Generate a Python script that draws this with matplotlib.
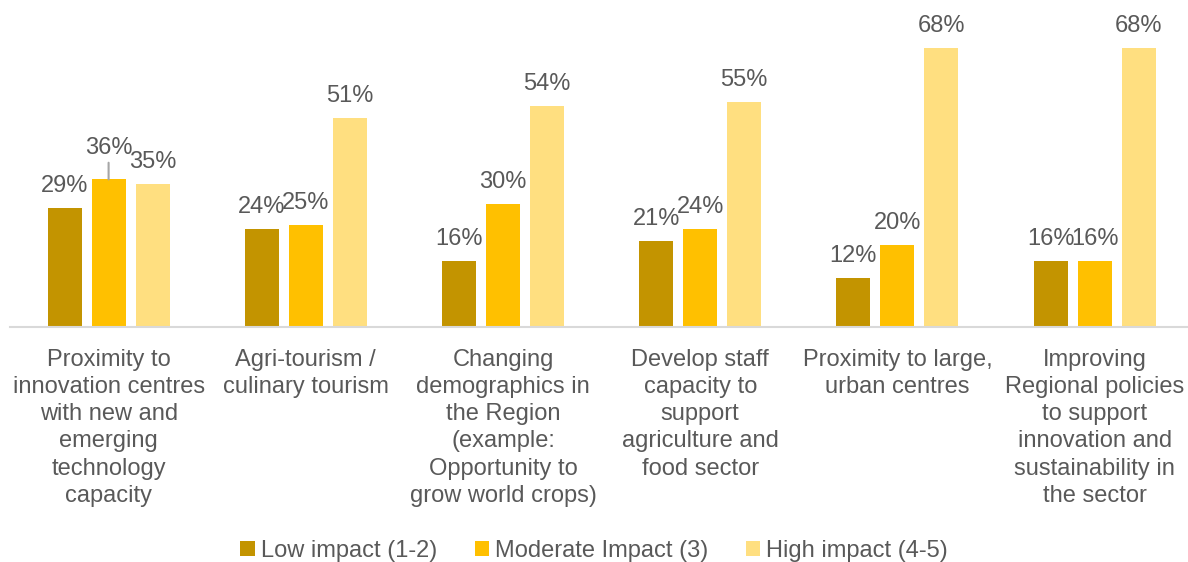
import matplotlib
matplotlib.use("Agg")
import matplotlib.pyplot as plt
from matplotlib.patches import Patch
import numpy as np

categories = [
    "Proximity to\ninnovation centres\nwith new and\nemerging\ntechnology\ncapacity",
    "Agri-tourism /\nculinary tourism",
    "Changing\ndemographics in\nthe Region\n(example:\nOpportunity to\ngrow world crops)",
    "Develop staff\ncapacity to\nsupport\nagriculture and\nfood sector",
    "Proximity to large,\nurban centres",
    "Improving\nRegional policies\nto support\ninnovation and\nsustainability in\nthe sector",
]
series_names = ["Low impact (1-2)", "Moderate Impact (3)", "High impact (4-5)"]
low = [29, 24, 16, 21, 12, 16]
moderate = [36, 25, 30, 24, 20, 16]
high = [35, 51, 54, 55, 68, 68]

colors = ["#C39400", "#FFC000", "#FFDF80"]
text_color = "#595959"

plt.rcParams["font.family"] = ["Liberation Sans", "DejaVu Sans"]

W, H = 1188, 562
fig = plt.figure(figsize=(W / 100, H / 100), dpi=100)
left_px, bottom_px, top_px = 10, 327, 0
ax = fig.add_axes([left_px / W, (H - bottom_px) / H, (W - left_px) / W, (bottom_px - top_px) / H])

step = 197.2
x = np.arange(len(categories))
width = 34 / step
off = 44 / step
scale = 4.1  # px per percent

for i, (vals, c) in enumerate(zip([low, moderate, high], colors)):
    pos = x + (i - 1) * off
    ax.bar(pos, vals, width=width, color=c, zorder=2)
    for j, (p, v) in enumerate(zip(pos, vals)):
        if i == 1 and j == 0:
            ax.annotate(f"{v}%", xy=(p, v), xytext=(0, 18.5), textcoords="offset points",
                        ha="center", va="baseline", fontsize=17, color=text_color)
            ax.annotate("", xy=(p, v), xytext=(0, 12), textcoords="offset points",
                        arrowprops=dict(arrowstyle="-", color="#A6A6A6", lw=1.5,
                                        shrinkA=0, shrinkB=0))
        else:
            ax.annotate(f"{v}%", xy=(p, v), xytext=(0, 11.5), textcoords="offset points",
                        ha="center", va="baseline", fontsize=17, color=text_color)

ax.set_xlim(-0.5, (W - left_px) / step - 0.5)
ax.set_ylim(0, bottom_px / scale)
ax.set_xticks(x)
ax.set_xticklabels(categories, fontsize=17, color=text_color, linespacing=1.31)
ax.tick_params(axis="x", length=0, pad=15.5)
ax.set_yticks([])
for s in ["left", "right", "top"]:
    ax.spines[s].set_visible(False)
ax.spines["bottom"].set_color("#D9D9D9")
ax.spines["bottom"].set_linewidth(1.5)
ax.patch.set_alpha(0)

handles = [Patch(facecolor=c, edgecolor="none") for c in colors]
fig.legend(handles, series_names, loc="center", bbox_to_anchor=(0.5, (H - 551) / H),
           ncol=3, frameon=False, fontsize=17, labelcolor=text_color,
           handlelength=0.6, handleheight=0.6, handletextpad=0.25, columnspacing=1.6)

fig.savefig("out.png", dpi=100)
